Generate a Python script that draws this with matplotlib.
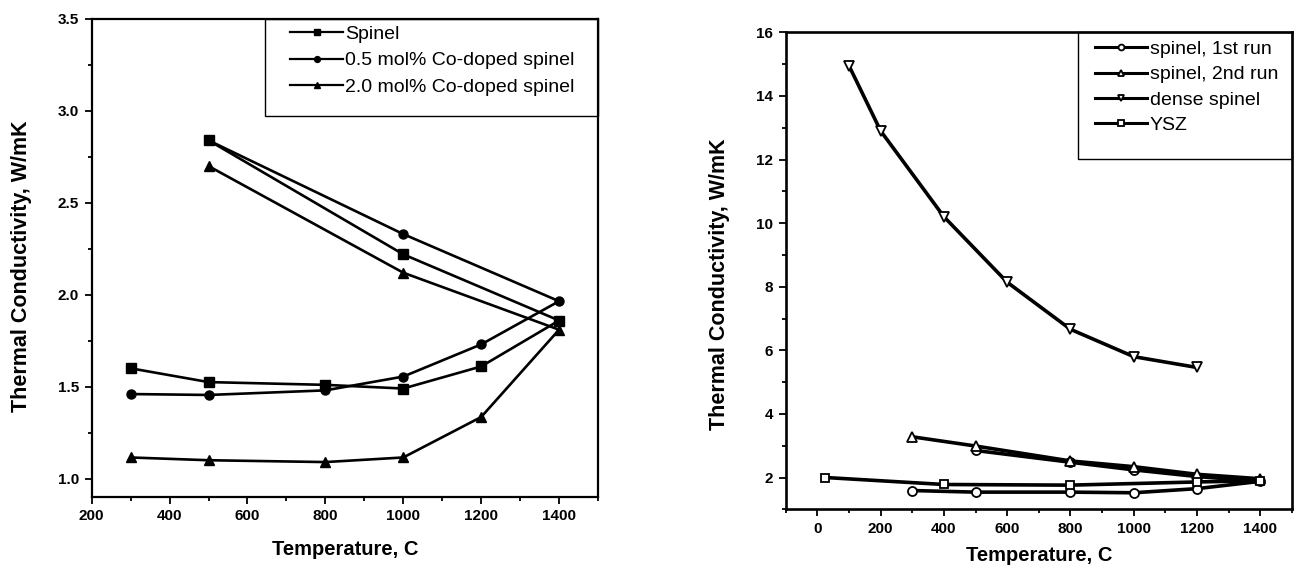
import matplotlib
matplotlib.use("Agg")
import matplotlib.pyplot as plt
from matplotlib.ticker import MultipleLocator, FormatStrFormatter
from matplotlib.patches import Rectangle

plt.rcParams['font.family'] = ['Liberation Sans', 'DejaVu Sans']
plt.rcParams['xtick.labelsize'] = 11
plt.rcParams['ytick.labelsize'] = 11

# ---------------- data: left panel (heating then cooling loop) ----------------
T_left = [300, 500, 800, 1000, 1200, 1400, 1000, 500]
spinel = [1.60, 1.525, 1.51, 1.49, 1.61, 1.86, 2.22, 2.84]
co05 = [1.46, 1.455, 1.48, 1.555, 1.73, 1.965, 2.33, 2.84]
co20 = [1.115, 1.10, 1.09, 1.115, 1.335, 1.81, 2.12, 2.70]
left_labels = ["Spinel", "0.5 mol% Co-doped spinel", "2.0 mol% Co-doped spinel"]

# ---------------- data: right panel ----------------
T_run1 = [300, 500, 800, 1000, 1200, 1400, 1200, 1000, 800, 500]
run1 = [1.59, 1.54, 1.54, 1.52, 1.65, 1.88, 2.03, 2.24, 2.48, 2.85]
T_run2 = [300, 500, 800, 1000, 1200, 1400]
run2 = [3.28, 2.99, 2.52, 2.34, 2.10, 1.96]
T_dense = [100, 200, 400, 600, 800, 1000, 1200]
dense = [14.95, 12.9, 10.2, 8.14, 6.66, 5.80, 5.46]
T_ysz = [25, 400, 800, 1200, 1400]
ysz = [2.00, 1.78, 1.76, 1.86, 1.90]
right_labels = ["spinel, 1st run", "spinel, 2nd run", "dense spinel", "YSZ"]

x_label = "Temperature, C"
y_label = "Thermal Conductivity, W/mK"

W, H = 1294, 571
fig = plt.figure(figsize=(W / 100, H / 100), dpi=100)


def fx(x):
    return x / W


def fy(y):
    return 1 - y / H


def axes_px(x0, y0, x1, y1):
    return [fx(x0), fy(y1), fx(x1) - fx(x0), fy(y0) - fy(y1)]


def style_axes(ax, lw):
    for s in ['top', 'right', 'left', 'bottom']:
        ax.spines[s].set_linewidth(lw)
    ax.tick_params(which='both', direction='out', top=False, right=False, width=1.3)
    ax.tick_params(which='major', length=5, pad=4)
    ax.tick_params(which='minor', length=3)
    for lab in ax.get_xticklabels() + ax.get_yticklabels():
        lab.set_fontweight('bold')


# ---------------- left panel ----------------
axL = fig.add_axes(axes_px(91.7, 19, 598, 497))
lw_l = 1.9
h1, = axL.plot(T_left, spinel, color='black', lw=lw_l, marker='s', ms=6.5)
h2, = axL.plot(T_left, co05, color='black', lw=lw_l, marker='o', ms=6.5)
h3, = axL.plot(T_left, co20, color='black', lw=lw_l, marker='^', ms=7)
axL.set_xlim(200, 1500)
axL.set_ylim(0.9, 3.5)
axL.set_xticks([200, 400, 600, 800, 1000, 1200, 1400])
axL.xaxis.set_minor_locator(MultipleLocator(100))
axL.set_yticks([1.0, 1.5, 2.0, 2.5, 3.0, 3.5])
axL.yaxis.set_minor_locator(MultipleLocator(0.25))
axL.yaxis.set_major_formatter(FormatStrFormatter('%.1f'))
style_axes(axL, 1.6)
axL.set_xlabel(x_label, fontsize=14.5, fontweight='bold', labelpad=12)
fig.text(fx(22), fy(266), y_label, rotation=90, ha='center', va='center',
         fontsize=15.5, fontweight='bold')

legL = axL.legend([h1, h2, h3], left_labels, loc='upper left',
                  bbox_to_anchor=(fx(290), fy(25.5)), bbox_transform=fig.transFigure,
                  frameon=False, borderpad=0, borderaxespad=0, fontsize=14,
                  handlelength=2.73, handletextpad=0.1, labelspacing=0.45,
                  markerscale=0.65)
for line in legL.get_lines():
    line.set_linewidth(1.6)
fig.patches.append(Rectangle((fx(265), fy(115.7)), fx(598) - fx(265), fy(19) - fy(115.7),
                             transform=fig.transFigure, fill=False, edgecolor='black',
                             linewidth=1.0, zorder=5))

# ---------------- right panel ----------------
axR = fig.add_axes(axes_px(785.7, 32.3, 1292, 509.3))
lw_r = 2.6
mk = dict(color='black', mfc='white', mec='black', mew=1.3)
g1, = axR.plot(T_run1, run1, lw=lw_r, marker='o', ms=6.5, **mk)
g2, = axR.plot(T_run2, run2, lw=lw_r, marker='^', ms=7, **mk)
g3, = axR.plot(T_dense, dense, lw=lw_r, marker='v', ms=7, **mk)
g4, = axR.plot(T_ysz, ysz, lw=lw_r, marker='s', ms=6, **mk)
axR.set_xlim(-100, 1500)
axR.set_ylim(1, 16)
axR.set_xticks([0, 200, 400, 600, 800, 1000, 1200, 1400])
axR.xaxis.set_minor_locator(MultipleLocator(100))
axR.set_yticks([2, 4, 6, 8, 10, 12, 14, 16])
axR.yaxis.set_minor_locator(MultipleLocator(1))
style_axes(axR, 1.9)
axR.set_xlabel(x_label, fontsize=14.5, fontweight='bold', labelpad=7)
fig.text(fx(719), fy(284), y_label, rotation=90, ha='center', va='center',
         fontsize=15.5, fontweight='bold')

legR = axR.legend([g1, g2, g3, g4], right_labels, loc='upper left',
                  bbox_to_anchor=(fx(1095), fy(40.5)), bbox_transform=fig.transFigure,
                  frameon=False, borderpad=0, borderaxespad=0, fontsize=14,
                  handlelength=2.65, handletextpad=0.18, labelspacing=0.40,
                  markerscale=0.65)
for line in legR.get_lines():
    line.set_linewidth(2.2)
fig.patches.append(Rectangle((fx(1078), fy(159)), fx(1292) - fx(1078), fy(32.3) - fy(159),
                             transform=fig.transFigure, fill=False, edgecolor='black',
                             linewidth=1.0, zorder=5))

fig.savefig("out.png", dpi=100)
